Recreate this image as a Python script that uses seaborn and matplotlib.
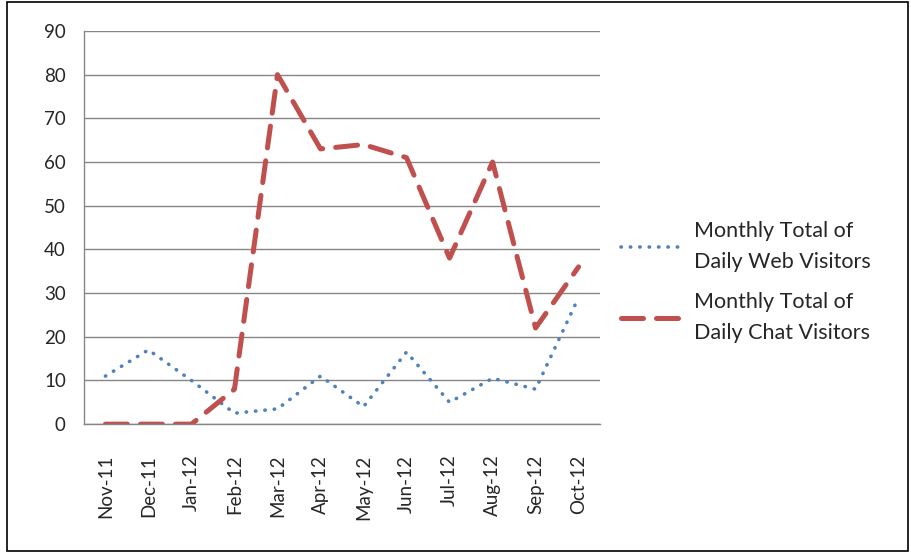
import matplotlib
matplotlib.use("Agg")
import matplotlib.pyplot as plt
import seaborn as sns
import pandas as pd
from matplotlib.patches import Rectangle

sns.set_style("white")
plt.rcParams["font.family"] = ["Lato", "DejaVu Sans"]

# ---------- data ----------
months = ["Nov-11", "Dec-11", "Jan-12", "Feb-12", "Mar-12", "Apr-12",
          "May-12", "Jun-12", "Jul-12", "Aug-12", "Sep-12", "Oct-12"]
web_visitors = [11, 17, 10, 2.5, 3.5, 11, 4, 16.5, 5, 10.5, 8, 29]
chat_visitors = [0, 0, 0, 8, 80, 63, 64, 61, 38, 60, 22, 36]
y_ticks = list(range(0, 91, 10))

web_label = "Monthly Total of\nDaily Web Visitors"
chat_label = "Monthly Total of\nDaily Chat Visitors"

df = pd.DataFrame({"pos": range(len(months)), "web": web_visitors, "chat": chat_visitors})

fig = plt.figure(figsize=(9.12, 5.53), dpi=100)
ax = fig.add_axes([0.092, 0.233, 0.566, 0.711])

sns.lineplot(data=df, x="pos", y="web", ax=ax, color="#4F81BD", lw=2.6,
             label=web_label)
sns.lineplot(data=df, x="pos", y="chat", ax=ax, color="#C0504D", lw=3.6,
             label=chat_label)
ax.lines[0].set_linestyle((0, (0.1, 2.5)))
ax.lines[0].set_dash_capstyle("round")
ax.lines[1].set_linestyle((0, (4.4, 2.6)))
ax.lines[1].set_dash_capstyle("round")

ax.set_xlim(-0.5, len(months) - 0.5)
ax.set_ylim(0, 90)
ax.set_yticks(y_ticks)
ax.set_xticks(range(len(months)))
ax.set_xticklabels(months, rotation=90, fontsize=13.5)
ax.set_xticks([i - 0.5 for i in range(len(months) + 1)], minor=True)
ax.tick_params(axis="x", which="major", length=0, pad=22)
ax.tick_params(axis="x", which="minor", length=5, color="#868686", width=1)
ax.tick_params(axis="y", length=5, color="#868686", width=1, labelsize=13.5, pad=8)
ax.set_xlabel("")
ax.set_ylabel("")
ax.grid(axis="y", color="#868686", lw=1)
ax.set_axisbelow(True)
for side in ["top", "right"]:
    ax.spines[side].set_visible(False)
for side in ["left", "bottom"]:
    ax.spines[side].set_color("#868686")
    ax.spines[side].set_linewidth(1)

ax.get_legend().remove()
handles, labels = ax.get_legend_handles_labels()
leg = fig.legend(handles, labels, loc="center left", bbox_to_anchor=(0.66, 0.49),
                 frameon=False, fontsize=15.5, handlelength=2.8, labelspacing=0.95,
                 handletextpad=0.6)
for t in leg.get_texts():
    t.set_linespacing(1.7)

fig.patches.append(Rectangle((0.008, 0.003), 0.988, 0.994, transform=fig.transFigure,
                             fill=False, edgecolor="black", lw=1.2))

fig.savefig("out.png", dpi=100)
